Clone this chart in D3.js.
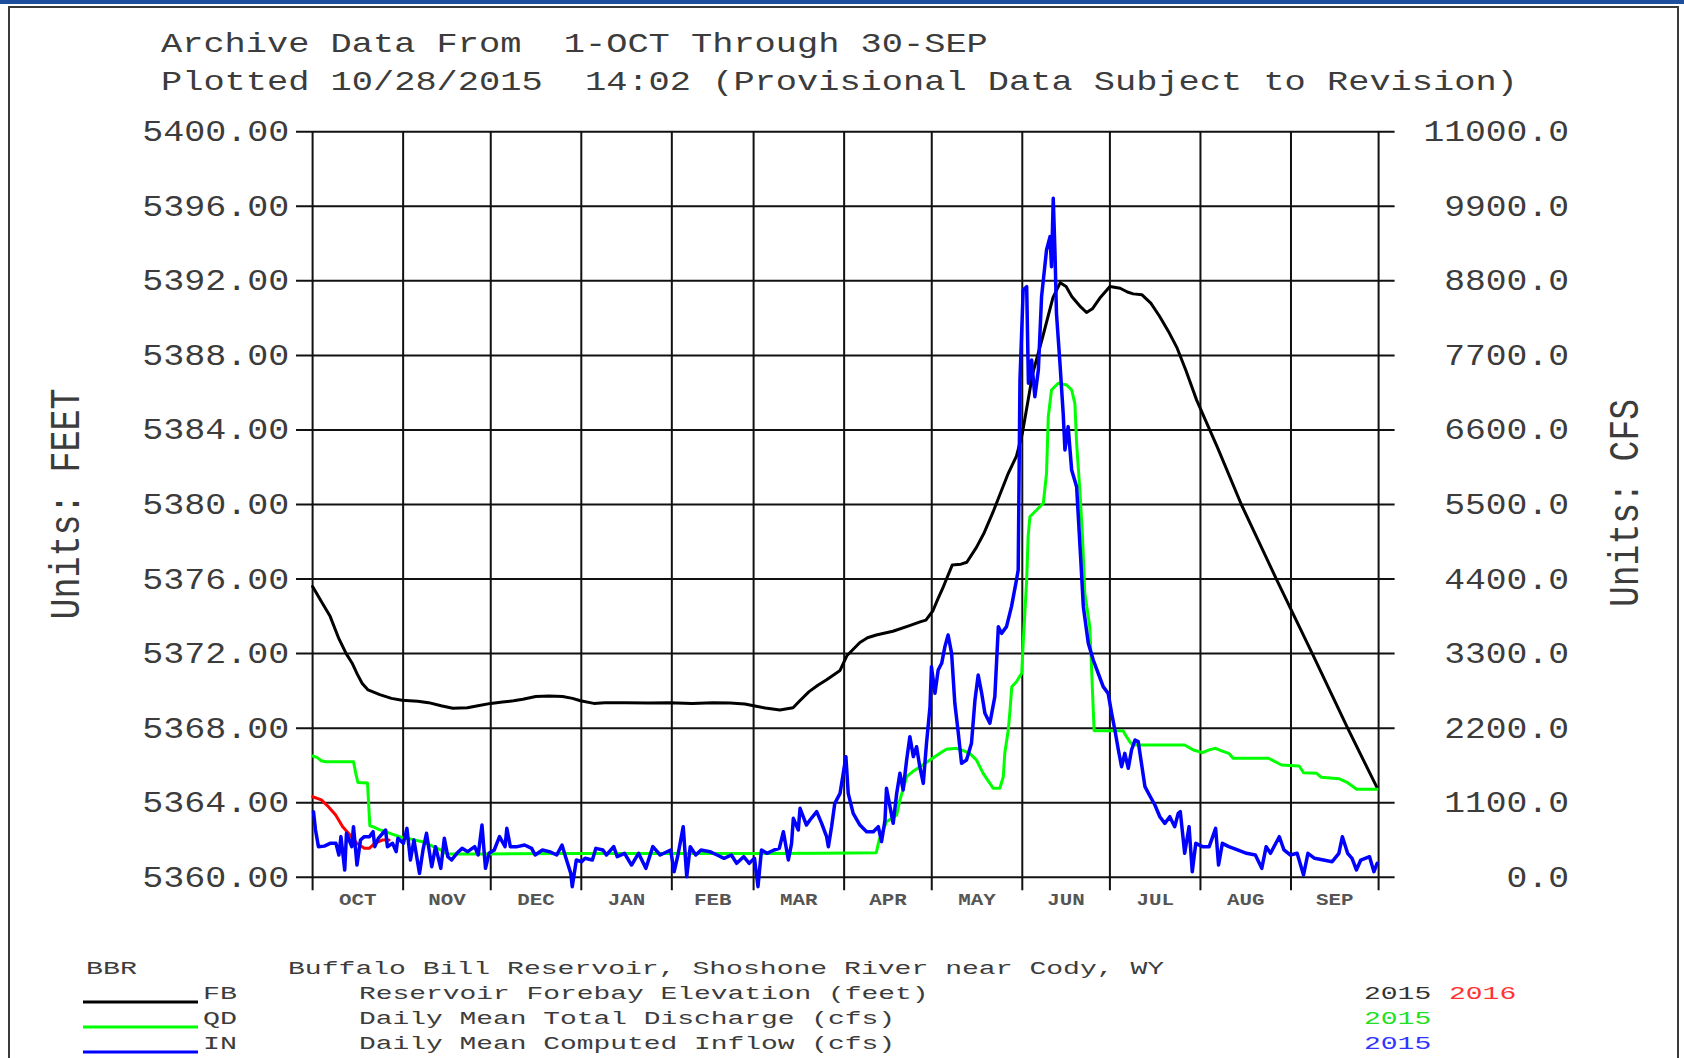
<!DOCTYPE html>
<html>
<head>
<meta charset="utf-8">
<title>BBR - Buffalo Bill Reservoir</title>
<script src="https://cdn.jsdelivr.net/npm/d3@7"></script>
<style>
  html, body { margin: 0; padding: 0; background: #fff; }
  svg { display: block; }
  text { font-family: "Liberation Mono", "DejaVu Sans Mono", monospace; fill: #3c3c3c; white-space: pre; }
</style>
</head>
<body>
<svg id="chart" width="1684" height="1058"></svg>
<script>
// water year Oct 1 2014 - Sep 30 2015, values are [day since Oct 1, value]
var feetTicks = [5360, 5364, 5368, 5372, 5376, 5380, 5384, 5388, 5392, 5396, 5400];
var cfsTicks = [0, 1100, 2200, 3300, 4400, 5500, 6600, 7700, 8800, 9900, 11000];
var monthNames = ['OCT', 'NOV', 'DEC', 'JAN', 'FEB', 'MAR', 'APR', 'MAY', 'JUN', 'JUL', 'AUG', 'SEP'];

var titleLines = ['Archive Data From  1-OCT Through 30-SEP',
                  'Plotted 10/28/2015  14:02 (Provisional Data Subject to Revision)'];

var legendCodes = ['FB', 'QD', 'IN'];
var legendNames = ['Reservoir Forebay Elevation (feet)', 'Daily Mean Total Discharge (cfs)', 'Daily Mean Computed Inflow (cfs)'];
var legendColors = ['#000000', '#00ff00', '#0000ff'];
var legendYears = [['2015', '2016'], ['2015'], ['2015']];
var legendYearColors = [['#333333', '#ff3333'], ['#22e022'], ['#3333ff']];

// FB 2015 (feet)
var forebay2015 = [
  [0, 5375.6], [3, 5374.8], [6, 5374.0], [9, 5372.8], [11.5, 5372.0], [13.5, 5371.5], [15.3, 5370.9], [17, 5370.4],
  [19, 5370.05], [23, 5369.8], [27, 5369.6], [30.6, 5369.5], [36, 5369.45], [39.7, 5369.37], [44, 5369.2], [48, 5369.07],
  [53, 5369.1], [56.6, 5369.2], [61, 5369.33], [65, 5369.4], [68.8, 5369.47], [72, 5369.55], [76.4, 5369.7], [81, 5369.72],
  [85.6, 5369.7], [89, 5369.6], [91.7, 5369.47], [96.3, 5369.33], [100, 5369.37], [107, 5369.37], [115, 5369.35],
  [122, 5369.37], [130, 5369.33], [137, 5369.37], [143, 5369.35], [148, 5369.3], [151, 5369.2], [155, 5369.08],
  [160, 5368.98], [164.5, 5369.1], [167, 5369.5], [170, 5369.96], [173, 5370.3], [176, 5370.6], [180.6, 5371.1],
  [183, 5371.9], [187.4, 5372.6], [190, 5372.85], [193, 5373.0], [198.7, 5373.2], [204.4, 5373.5], [208, 5373.7],
  [210, 5373.8], [212.4, 5374.3], [214, 5374.9], [216, 5375.6], [219, 5376.75], [222, 5376.8], [224, 5376.9],
  [227.3, 5377.7], [230, 5378.5], [233, 5379.6], [235, 5380.4], [238, 5381.6], [241, 5382.6], [243, 5383.8],
  [246.6, 5387.05], [250, 5389.0], [253.5, 5391.1], [256, 5391.9], [258, 5391.7], [260, 5391.15], [263, 5390.6],
  [265, 5390.3], [267, 5390.5], [269.5, 5391.06], [273, 5391.7], [276.5, 5391.6], [279, 5391.4], [281, 5391.3],
  [284, 5391.25], [287, 5390.8], [290, 5390.1], [293, 5389.3], [296, 5388.4], [299, 5387.2], [302.7, 5385.6],
  [310, 5383.0], [318, 5380.0], [330, 5376.0], [342.3, 5372.0], [354.4, 5368.0], [364.3, 5364.86]
];

// FB 2016 (feet), first weeks only
var forebay2016 = [
  [0, 5364.32], [3, 5364.15], [5.4, 5363.79], [7.9, 5363.34], [10.3, 5362.71], [12.8, 5362.27],
  [15.2, 5361.82], [17.7, 5361.56], [19.5, 5361.56], [21.3, 5361.82], [23.8, 5362.0], [26.2, 5362.0]
];

// QD 2015 (cfs)
var discharge2015 = [
  [0, 1790], [1.5, 1770], [3, 1720], [4.5, 1706], [14, 1706], [14.8, 1530], [15.5, 1400], [18.8, 1390],
  [19.6, 760], [21, 740], [23, 700], [25, 675], [27, 640], [29, 610], [31, 580], [34, 560], [38, 520],
  [41, 460], [44, 400], [46, 345], [60, 345], [90, 350], [120, 350], [150, 350], [175, 355], [193, 363],
  [194, 552], [196.5, 820], [200, 919], [201.1, 1140], [203.4, 1484], [205.5, 1560], [208, 1632], [211.4, 1730],
  [214.8, 1829], [217, 1888], [220.5, 1903], [222.8, 1868], [225, 1829], [227.3, 1730], [229.6, 1534],
  [231.9, 1387], [233, 1313], [235.3, 1313], [236.5, 1484], [237, 1829], [238.2, 2173], [238.8, 2468],
  [239.4, 2812], [241, 2886], [242.8, 3010], [243.3, 3452], [244.5, 4386], [245, 5025], [245.6, 5320],
  [247.9, 5419], [250.2, 5518], [251.3, 5960], [251.9, 6796], [253, 7189], [255.3, 7288], [258.2, 7263],
  [259.9, 7189], [261, 6993], [261.6, 6403], [262.7, 5714], [263.6, 5025], [264.4, 4190], [266.1, 3698],
  [266.6, 3206], [267.3, 2468], [267.6, 2163], [273, 2163], [277.5, 2163], [278.7, 2074], [280.2, 1977],
  [282, 1952], [298.6, 1952], [301.6, 1878], [304.7, 1839], [307, 1880], [309.2, 1903], [311, 1870],
  [313.7, 1829], [315.2, 1756], [327.3, 1756], [331.8, 1657], [337.8, 1642], [339.3, 1543], [343.8, 1534],
  [345.4, 1475], [351.4, 1455], [354.4, 1396], [357.5, 1298], [364.5, 1298]
];

// IN 2015 (cfs)
var inflow2015 = [
  [0.3, 968], [1, 698], [2, 452], [4, 460], [6, 501], [8, 501], [9, 329], [9.7, 600], [11, 108], [11.6, 649],
  [13.4, 452], [14, 747], [15.2, 181], [16.4, 550], [17.7, 600], [19.5, 600], [20.7, 673], [21.3, 452], [22.5, 575], [25, 698],
  [25.6, 452], [27.4, 501], [28.6, 378], [29.2, 575], [31.1, 501], [32.3, 722], [33.5, 255], [34.7, 550], [36.6, 58], [37.8, 403],
  [39, 649], [40.8, 157], [42.1, 452], [43.9, 132], [45.1, 575], [46.3, 304], [47.6, 255], [49.4, 354], [51.2, 427], [53.1, 378],
  [55.5, 452], [56.7, 329], [58, 771], [59.2, 132], [60.4, 354], [62.2, 403], [64, 600], [65.9, 452], [66.5, 722], [67.7, 452],
  [70.1, 452], [72.6, 476], [75, 427], [76.2, 329], [78.7, 403], [81.1, 378], [83.6, 329], [85.4, 476], [86.6, 304], [88.4, 58],
  [88.9, -138], [90.3, 255], [92.1, 230], [93.3, 280], [95.8, 255], [97, 427], [99.4, 403], [100.6, 329], [103.1, 452], [104.3, 304],
  [106.8, 354], [109.2, 181], [111.6, 354], [114.1, 132], [116.5, 452], [119, 329], [122.6, 403], [123.8, 83], [125.1, 329], [126.9, 747],
  [128.1, 9], [129.3, 452], [131.2, 329], [133, 403], [136, 378], [138.5, 329], [140.9, 280], [143.4, 329], [145.2, 206], [147.6, 304],
  [149.5, 206], [151.3, 280], [152.5, -138], [153.7, 403], [155.6, 354], [158, 403], [159.8, 427], [161.2, 673], [162.9, 255], [164, 501],
  [164.6, 870], [166.3, 698], [166.9, 1017], [169.1, 771], [170.3, 845], [172.6, 968], [174.3, 796], [176, 599], [176.6, 452], [177.7, 747],
  [178.8, 1091], [180.6, 1239], [181.7, 1534], [182.6, 1780], [183.4, 1239], [185.1, 944], [187.4, 771], [189.7, 673], [192, 673], [193.7, 747],
  [194.8, 526], [196, 845], [196.5, 1313], [197.7, 1042], [198.8, 796], [200, 1239], [201.1, 1534], [202.2, 1288], [203.4, 1731], [204.5, 2075],
  [205.7, 1780], [206.8, 1927], [207.9, 1632], [209.1, 1386], [210.2, 1976], [211.4, 2517], [211.9, 3108], [213.1, 2714], [214.2, 3058], [215.4, 3157],
  [216.5, 3403], [217.6, 3575], [218.8, 3304], [219.9, 2567], [221.1, 2124], [222.2, 1681], [223.9, 1731], [225.6, 1976], [226.8, 2616], [227.9, 2985],
  [229.1, 2714], [230.2, 2419], [231.9, 2272], [233.6, 2665], [234.8, 3698], [235.9, 3599], [237.6, 3698], [239.3, 3993], [241, 4386], [241.6, 4534],
  [242.2, 7337], [243.3, 8665], [244.5, 8714], [245.1, 7288], [246.2, 7632], [247.3, 7091], [248.5, 7485], [249.6, 8567], [251.3, 9255], [252.5, 9452],
  [253, 9009], [253.6, 10017], [254.2, 9206], [254.7, 8321], [255.9, 7583], [257, 6845], [257.6, 6304], [258.7, 6649], [259.9, 6009], [261.6, 5763],
  [263, 4700], [263.9, 3993], [265.6, 3452], [267.3, 3206], [269, 3009], [270.7, 2813], [272.4, 2714], [273.6, 2419], [274.7, 2173], [275.9, 1878],
  [277, 1632], [278.1, 1829], [279.3, 1608], [280.4, 1878], [281.6, 2026], [282.7, 2001], [283.8, 1681], [285, 1337], [286.7, 1200], [288.4, 1067],
  [290.1, 894], [291.8, 796], [293.5, 894], [295.2, 747], [296.4, 944], [297.1, 968], [298.6, 354], [300.1, 747], [301.2, 83], [302.4, 501],
  [304.7, 452], [307, 452], [309.2, 722], [310.2, 181], [311.5, 501], [313.7, 452], [316.7, 403], [319.8, 354], [322.8, 329], [325, 132],
  [326.5, 452], [328, 354], [331, 599], [332.6, 403], [334.8, 329], [337.1, 354], [339.3, 34], [340.8, 354], [343.1, 280], [346.1, 255],
  [349.1, 230], [351.4, 354], [352.6, 599], [354.4, 354], [355.9, 280], [357.4, 108], [358.9, 255], [361.9, 304], [363.4, 83], [364.5, 206]
];

(function () {
  'use strict';

  var svg = d3.select('#chart');

  var left = 312.6, right = 1378.6, top = 131.7, bottom = 877.3;
  var t0 = Date.UTC(2014, 9, 1);
  function dayDate(d) { return new Date(t0 + d * 864e5); }

  var x = d3.scaleUtc().domain([dayDate(0), dayDate(365)]).range([left, right]);
  var yFeet = d3.scaleLinear().domain([5360, 5400]).range([bottom, top]);
  var yCfs = d3.scaleLinear().domain([0, 11000]).range([bottom, top]);

  // page chrome: blue strip + frame
  svg.append('rect').attr('x', 0).attr('y', 0).attr('width', 1684).attr('height', 4).attr('fill', '#1d4f9e');
  svg.append('rect').attr('x', 9).attr('y', 7).attr('width', 1669).attr('height', 1100)
    .attr('fill', 'none').attr('stroke', '#3a3a3a').attr('stroke-width', 2);

  // title lines
  svg.selectAll('.title').data(titleLines).enter().append('text')
    .attr('class', 'title')
    .attr('x', 161)
    .attr('y', function (d, i) { return 51.5 + i * 38.5; })
    .attr('font-size', 28)
    .attr('textLength', function (d) { return d.length * 21.2; })
    .attr('lengthAdjust', 'spacingAndGlyphs')
    .text(function (d) { return d; });

  // grid
  var monthStarts = d3.utcMonth.range(dayDate(0), dayDate(366));
  var grid = svg.append('g').attr('stroke', '#111').attr('stroke-width', 2);
  grid.selectAll('.hgrid').data(feetTicks).enter().append('line')
    .attr('x1', left - 16.6).attr('x2', right + 16)
    .attr('y1', function (d) { return yFeet(d); })
    .attr('y2', function (d) { return yFeet(d); });
  grid.selectAll('.vgrid').data(monthStarts).enter().append('line')
    .attr('x1', function (d) { return x(d); })
    .attr('x2', function (d) { return x(d); })
    .attr('y1', top).attr('y2', bottom + 13);

  // left axis labels
  var fmtFeet = d3.format('.2f');
  var gL = svg.append('g').attr('transform', 'translate(' + left + ',0)')
    .call(d3.axisLeft(yFeet).tickValues(feetTicks).tickFormat(fmtFeet).tickSize(0).tickPadding(23.4));
  gL.select('.domain').remove();
  gL.selectAll('text')
    .attr('font-size', 30)
    .attr('dy', 9)
    .attr('textLength', function (d) { return fmtFeet(d).length * 21; })
    .attr('lengthAdjust', 'spacingAndGlyphs');

  // right axis labels
  var fmtCfs = d3.format('.1f');
  var gR = svg.append('g').attr('transform', 'translate(' + right + ',0)')
    .call(d3.axisRight(yCfs).tickValues(cfsTicks).tickFormat(fmtCfs).tickSize(0));
  gR.select('.domain').remove();
  gR.selectAll('text')
    .attr('x', 1569 - right)
    .attr('text-anchor', 'end')
    .attr('font-size', 30)
    .attr('dy', 9)
    .attr('textLength', function (d) { return fmtCfs(d).length * 20.8; })
    .attr('lengthAdjust', 'spacingAndGlyphs');

  // month labels, centred in each month
  svg.selectAll('.mon').data(monthNames).enter().append('text')
    .attr('class', 'mon')
    .attr('x', function (d, i) { return (x(monthStarts[i]) + x(monthStarts[i + 1])) / 2; })
    .attr('y', 905)
    .attr('text-anchor', 'middle')
    .attr('font-size', 17)
    .attr('font-weight', 'bold')
    .attr('textLength', 37.5)
    .attr('lengthAdjust', 'spacingAndGlyphs')
    .style('fill', '#555')
    .text(function (d) { return d; });

  // axis titles
  svg.append('text')
    .attr('transform', 'translate(79,504) rotate(-90)')
    .attr('text-anchor', 'middle')
    .attr('font-size', 42)
    .attr('textLength', 231)
    .attr('lengthAdjust', 'spacingAndGlyphs')
    .text('Units: FEET');
  svg.append('text')
    .attr('transform', 'translate(1638,503) rotate(-90)')
    .attr('text-anchor', 'middle')
    .attr('font-size', 42)
    .attr('textLength', 208)
    .attr('lengthAdjust', 'spacingAndGlyphs')
    .text('Units: CFS');

  // series
  var lineFeet = d3.line()
    .x(function (d) { return x(dayDate(d[0])); })
    .y(function (d) { return yFeet(d[1]); });
  var lineCfs = d3.line()
    .x(function (d) { return x(dayDate(d[0])); })
    .y(function (d) { return yCfs(d[1]); });

  var series = svg.append('g').attr('fill', 'none').attr('stroke-linejoin', 'round').attr('stroke-linecap', 'round');
  series.append('path').datum(forebay2015).attr('d', lineFeet).attr('stroke', '#000').attr('stroke-width', 3);
  series.append('path').datum(forebay2016).attr('d', lineFeet).attr('stroke', '#ff0000').attr('stroke-width', 3);
  series.append('path').datum(discharge2015).attr('d', lineCfs).attr('stroke', '#00ff00').attr('stroke-width', 3);
  series.append('path').datum(inflow2015).attr('d', lineCfs).attr('stroke', '#0000ff').attr('stroke-width', 3.5);

  // legend
  var lg = svg.append('g');
  lg.append('text').attr('x', 86).attr('y', 974).attr('font-size', 18)
    .attr('textLength', 3 * 17).attr('lengthAdjust', 'spacingAndGlyphs').text('BBR');
  var station = 'Buffalo Bill Reservoir, Shoshone River near Cody, WY';
  lg.append('text').attr('x', 288).attr('y', 974).attr('font-size', 18)
    .attr('textLength', station.length * 16.85).attr('lengthAdjust', 'spacingAndGlyphs').text(station);

  legendCodes.forEach(function (code, i) {
    var yb = 999 + i * 25;
    lg.append('line').attr('x1', 83).attr('x2', 198).attr('y1', yb + 3).attr('y2', yb + 3)
      .attr('stroke', legendColors[i]).attr('stroke-width', 3);
    lg.append('text').attr('x', 203).attr('y', yb).attr('font-size', 18)
      .attr('textLength', code.length * 17).attr('lengthAdjust', 'spacingAndGlyphs').text(code);
    lg.append('text').attr('x', 359).attr('y', yb).attr('font-size', 18)
      .attr('textLength', legendNames[i].length * 16.75).attr('lengthAdjust', 'spacingAndGlyphs').text(legendNames[i]);
    legendYears[i].forEach(function (yr, j) {
      lg.append('text').attr('x', 1364 + j * 85).attr('y', yb).attr('font-size', 18)
        .attr('textLength', yr.length * 16.8).attr('lengthAdjust', 'spacingAndGlyphs')
        .style('fill', legendYearColors[i][j]).text(yr);
    });
  });
})();
</script>
</body>
</html>
